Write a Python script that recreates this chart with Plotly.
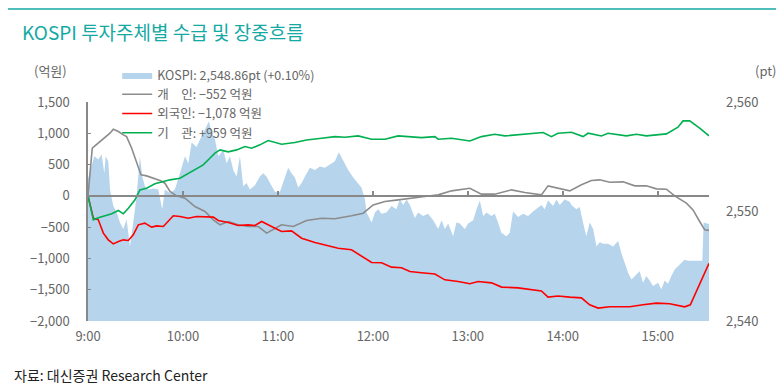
import plotly.graph_objects as go

# ---- data (minutes after 09:00) ----
kospi_min = [0, 2.3, 4.0, 6.5, 8.6, 10.3, 11.2, 12.8, 13.9, 16.0, 18.1, 20.2, 22.3, 24.4, 26.5, 28.6,
             30.7, 32.8, 34.3, 36.0, 38.1, 41.3, 44.4, 46.9, 48.6, 51.8, 54.9, 58.1, 61.3, 63.4, 65.5,
             68.6, 70.7, 72.8, 75.0, 76.4, 78.1, 80.2, 82.3, 85.5, 87.6, 89.7, 91.8, 93.9, 96.0, 98.1,
             100.2, 102.3, 105.5, 108.6, 110.7, 112.8, 115.0, 118.1, 121.3, 123.4, 126.5, 128.6, 130.7,
             132.8, 135.0, 137.1, 140.2, 143.4, 146.5, 149.7, 152.8, 156.0, 158.5, 161.3, 164.4, 167.6,
             170.7, 172.8, 175.0, 176.0, 177.5, 179.2, 181.3, 183.4, 185.5, 188.6, 191.8, 194.9, 197.0,
             199.2, 201.3, 203.4, 204.4, 206.5, 208.6, 211.8, 214.9, 218.1, 221.3, 223.4, 225.5, 227.6,
             230.7, 232.8, 234.9, 238.1, 240.2, 243.4, 245.5, 247.6, 249.7, 251.8, 254.9, 257.0, 259.1,
             261.2, 264.4, 266.5, 268.6, 271.8, 274.9, 278.1, 281.2, 284.4, 286.5, 288.6, 290.7, 293.9,
             296.0, 298.1, 301.2, 304.4, 305.5, 308.6, 310.7, 312.8, 314.9, 317.0, 319.2, 321.3, 323.4,
             325.5, 328.6, 331.8, 335.0, 337.0, 339.2, 341.3, 343.4, 346.5, 348.6, 350.7, 352.8, 354.9,
             357.0, 360.2, 362.3, 364.4, 366.5, 368.6, 370.7, 372.8, 374.9, 377.0, 379.1, 388.2, 389.0,
             392.4]
kospi_pt = [2553.0, 2554.1, 2555.05, 2554.75, 2555.2, 2553.5, 2555.05, 2554.6, 2552.0, 2550.5, 2549.9,
            2549.0, 2548.4, 2549.3, 2546.8, 2549.0, 2551.4, 2555.05, 2553.2, 2552.3, 2552.0, 2552.1,
            2552.0, 2550.2, 2552.0, 2551.7, 2552.0, 2553.5, 2555.05, 2554.4, 2556.3, 2555.9, 2556.6,
            2557.2, 2557.8, 2558.25, 2557.2, 2556.6, 2555.05, 2555.6, 2554.4, 2555.05, 2553.8, 2553.2,
            2555.05, 2552.3, 2552.6, 2552.0, 2552.4, 2553.2, 2553.5, 2553.2, 2552.6, 2551.8, 2551.8,
            2552.7, 2554.0, 2553.5, 2553.1, 2552.2, 2552.6, 2553.2, 2554.0, 2553.8, 2554.1, 2554.0,
            2554.3, 2554.6, 2555.4, 2554.6, 2553.8, 2553.1, 2552.6, 2552.2, 2551.1, 2549.9, 2549.5,
            2549.0, 2549.9, 2550.2, 2549.8, 2549.9, 2550.5, 2550.2, 2551.1, 2550.6, 2551.1, 2550.6,
            2550.2, 2549.4, 2549.9, 2549.6, 2549.8, 2549.2, 2548.4, 2549.2, 2548.4, 2548.9, 2547.75,
            2549.0, 2548.9, 2548.4, 2548.9, 2549.2, 2550.2, 2551.0, 2549.6, 2549.9, 2549.6, 2549.8,
            2549.0, 2548.05, 2547.75, 2548.05, 2550.0, 2549.5, 2549.8, 2549.6, 2550.0, 2550.4, 2550.6,
            2550.2, 2551.0, 2550.5, 2551.1, 2550.6, 2551.1, 2550.9, 2550.6, 2550.2, 2550.4, 2549.0,
            2547.75, 2549.0, 2548.4, 2546.8, 2547.2, 2547.05, 2547.05, 2546.8, 2547.3, 2546.2, 2545.3,
            2544.4, 2543.8, 2544.2, 2544.55, 2543.5, 2544.1, 2543.7, 2543.2, 2543.5, 2542.9, 2543.7,
            2543.4, 2544.1, 2544.7, 2545.0, 2545.3, 2545.6, 2545.5, 2545.5, 2549.0, 2548.86]

indiv_min = [0, 2.7, 3.8, 7.6, 10.7, 13.9, 16.0, 19.2, 22.3, 24.4, 27.6, 30.7, 33.5, 37.0, 41.3, 45.5,
             48.6, 51.8, 56.0, 61.3, 67.6, 73.9, 79.2, 83.4, 88.6, 94.9, 101.2, 107.6, 112.9, 117.0,
             122.3, 129.7, 138.1, 147.6, 156.0, 166.5, 173.9, 180.2, 187.6, 196.0, 203.4, 212.8, 221.3,
             229.7, 241.3, 248.6, 257.0, 267.6, 276.0, 286.5, 290.7, 297.0, 304.4, 311.8, 318.1, 323.4,
             329.7, 338.1, 345.5, 352.8, 359.2, 365.5, 370.7, 378.1, 382.3, 386.5, 389.7, 392.4]
indiv_val = [0, 761, 788, 868, 947, 1001, 1065, 1028, 974, 947, 761, 522, 335, 319, 282, 245, 202, 69,
             0, -37, -170, -250, -383, -463, -410, -463, -490, -490, -596, -543, -463, -490, -394, -357,
             -367, -319, -277, -144, -90, -64, -37, -10, 16, 80, 122, 27, 27, 96, 53, 16, 160, 122, 80,
             176, 245, 256, 218, 224, 160, 160, 112, 106, 0, -117, -224, -410, -543, -552]

foreign_min = [0, 3.4, 6.5, 9.7, 12.8, 16.0, 19.2, 22.3, 25.5, 28.6, 31.8, 35.9, 40.2, 43.4, 47.6, 50.7,
               53.9, 58.1, 63.4, 68.6, 73.9, 79.2, 82.3, 88.6, 94.9, 101.2, 105.5, 109.7, 116.0, 122.3,
               128.6, 135.0, 143.4, 149.7, 158.1, 166.5, 172.8, 179.2, 185.5, 191.8, 198.1, 203.4, 210.7,
               219.2, 225.5, 233.9, 241.3, 246.5, 255.0, 261.3, 271.8, 280.2, 286.5, 290.7, 297.0, 304.4,
               311.8, 317.0, 322.3, 329.7, 342.3, 350.7, 359.2, 367.6, 377.0, 380.6, 392.4]
foreign_val = [0, -357, -383, -596, -703, -767, -729, -703, -713, -623, -463, -436, -500, -480, -490,
               -410, -319, -330, -357, -330, -330, -340, -394, -426, -474, -463, -474, -410, -490, -570,
               -560, -676, -745, -782, -836, -862, -969, -1065, -1070, -1139, -1150, -1209, -1230, -1250,
               -1342, -1369, -1405, -1369, -1390, -1458, -1470, -1501, -1520, -1618, -1600, -1618, -1630,
               -1741, -1794, -1773, -1773, -1741, -1714, -1725, -1773, -1741, -1078]

inst_min = [0, 3.4, 6.5, 10.7, 15.0, 19.2, 22.3, 25.5, 29.7, 32.8, 37.0, 42.3, 47.6, 51.8, 58.1, 63.4,
            67.6, 72.8, 77.0, 80.2, 83.4, 88.6, 93.9, 99.2, 103.4, 108.6, 113.9, 122.3, 130.7, 138.1,
            147.6, 156.0, 162.3, 170.7, 179.2, 187.6, 196.0, 203.4, 210.7, 219.2, 221.3, 229.7, 241.3,
            248.6, 257.0, 263.4, 271.8, 280.2, 287.6, 292.8, 297.0, 305.5, 312.8, 316.0, 324.4, 328.6,
            340.2, 346.5, 352.8, 365.5, 372.8, 376.0, 380.2, 386.5, 392.4]
inst_val = [0, -383, -350, -320, -287, -234, -287, -197, -64, 96, 123, 192, 229, 256, 282, 362, 426,
            495, 602, 682, 735, 703, 735, 788, 761, 815, 884, 825, 852, 894, 921, 947, 937, 958, 905,
            905, 958, 947, 931, 947, 905, 921, 878, 947, 985, 958, 974, 1001, 1012, 947, 1001, 1017,
            947, 1001, 958, 1001, 958, 985, 958, 990, 1097, 1198, 1198, 1081, 959]

names = ["KOSPI: 2,548.86pt (+0.10%)", "개\u3000인: \u2212552 억원",
         "외국인: \u22121,078 억원", "기\u3000관: +959 억원"]
tick_vals = [0, 60, 120, 180, 240, 300, 360]
tick_text = ["9:00", "10:00", "11:00", "12:00", "13:00", "14:00", "15:00"]

FONT = "Noto Sans CJK KR"
GRAY = "#666666"
AXC = "#888888"
TEAL = "#14A9A3"

fig = go.Figure()
fig.add_trace(go.Scatter(x=kospi_min, y=kospi_pt, name=names[0], mode="lines",
                         line=dict(width=0, color="#B6D4EC"), fill="tozeroy",
                         fillcolor="#B6D4EC", xaxis="x", yaxis="y"))
fig.add_trace(go.Scatter(x=indiv_min, y=indiv_val, name=names[1], mode="lines",
                         line=dict(color="#8C8C8C", width=1.6), xaxis="x2", yaxis="y2"))
fig.add_trace(go.Scatter(x=foreign_min, y=foreign_val, name=names[2], mode="lines",
                         line=dict(color="#FF0000", width=1.6), xaxis="x2", yaxis="y2"))
fig.add_trace(go.Scatter(x=inst_min, y=inst_val, name=names[3], mode="lines",
                         line=dict(color="#00B050", width=1.6), xaxis="x2", yaxis="y2"))

xr = [0, 392.4]
zero_pos = 2000 / 3500

fig.update_layout(
    width=776, height=383,
    margin=dict(l=80, r=75, t=94, b=70),
    paper_bgcolor="white", plot_bgcolor="white",
    font=dict(family=FONT, size=13, color=GRAY),
    showlegend=True,
    legend=dict(x=0.047, y=1.19, xanchor="left", yanchor="top",
                font=dict(family=FONT, size=12.5, color=GRAY),
                bgcolor="rgba(0,0,0,0)", itemwidth=30, tracegroupgap=0),
    xaxis=dict(range=xr, tickvals=tick_vals, ticktext=tick_text, showline=False,
               ticks="", showgrid=False, zeroline=False, ticklabelstandoff=6,
               tickfont=dict(family=FONT, size=13, color=GRAY)),
    xaxis2=dict(range=xr, overlaying="x", anchor="free", position=zero_pos,
                tickvals=tick_vals, showticklabels=False, ticks="inside", ticklen=4,
                tickwidth=1.5, tickcolor=AXC, showline=True, linecolor=AXC, linewidth=2,
                showgrid=False, zeroline=False),
    yaxis=dict(range=[2540, 2560], dtick=10, side="right", tickformat=",",
               showline=False, ticks="", showgrid=False, zeroline=False,
               ticklabelstandoff=16, tickfont=dict(family=FONT, size=13, color=GRAY)),
    yaxis2=dict(range=[-2000, 1500], dtick=500, side="left", overlaying="y", anchor="x2",
                tickformat=",", showline=True, linecolor=AXC, linewidth=1.5,
                ticks="inside", ticklen=3, tickcolor=AXC, showgrid=False, zeroline=False,
                ticklabelstandoff=14, tickfont=dict(family=FONT, size=13, color=GRAY)),
    shapes=[dict(type="line", xref="paper", yref="paper", x0=-0.1288, x1=1.125,
                 y0=1.4247, y1=1.4247, line=dict(color=TEAL, width=1.5))],
    annotations=[
        dict(text="KOSPI 투자주체별 수급 및 장중흐름", xref="paper", yref="paper",
             x=-0.1095, y=1.324, xanchor="left", yanchor="middle", showarrow=False,
             font=dict(family=FONT, size=19, color=TEAL)),
        dict(text="(억원)", xref="paper", yref="paper", x=-0.0596, y=1.146,
             xanchor="center", yanchor="middle", showarrow=False,
             font=dict(family=FONT, size=13, color=GRAY)),
        dict(text="(pt)", xref="paper", yref="paper", x=1.0918, y=1.146,
             xanchor="center", yanchor="middle", showarrow=False,
             font=dict(family=FONT, size=13, color=GRAY)),
        dict(text="자료: 대신증권 Research Center", xref="paper", yref="paper",
             x=-0.1224, y=-0.2466, xanchor="left", yanchor="middle", showarrow=False,
             font=dict(family=FONT, size=14, color="#222222")),
    ],
)

fig.write_html("out.html")
